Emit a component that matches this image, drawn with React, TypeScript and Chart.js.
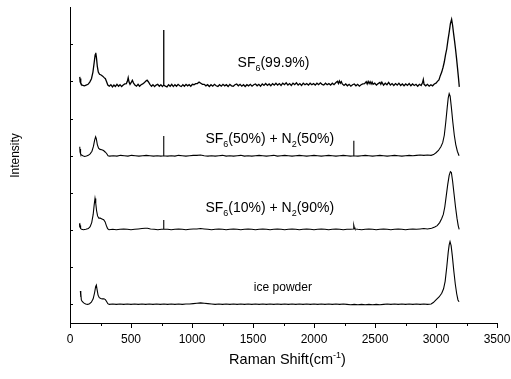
import React, { useEffect, useRef } from 'react';
import { Chart, registerables } from 'chart.js';

Chart.register(...registerables);

// ---------- data ----------
const xMin = 0;
const xMax = 3500;
const xStep = 250;
const xLabelStep = 500;
const yMin = -0.5;
const yMax = 8;
const yTickValues = [0, 1, 2, 3, 4, 5, 6, 7];

const seriesNames = ['SF6(99.9%)', 'SF6(50%) + N2(50%)', 'SF6(10%) + N2(90%)', 'ice powder'];
const seriesOffsets = [5.95, 4.0, 2.02, 0.0];

const sf6PureSpectrum: [number, number][] = [
  [80, 0.17], [83, 0.04], [86, 0.13], [90, 0.0], [96, -0.04], [105, -0.06], [118, -0.07], [132, -0.05], [148, -0.03],
  [162, 0.03], [176, 0.12], [188, 0.3], [198, 0.55], [206, 0.76], [211, 0.82], [217, 0.68], [224, 0.45], [232, 0.3],
  [242, 0.24], [255, 0.22], [268, 0.19], [280, 0.15], [290, 0.12], [300, 0.04], [310, -0.05], [322, -0.08],
  [335, -0.04], [348, -0.1], [360, -0.05], [372, -0.09], [385, -0.03], [398, -0.08], [410, -0.04], [423, -0.09],
  [436, -0.05], [449, -0.02], [462, -0.01], [470, 0.05], [477, 0.15], [484, 0.03], [492, -0.03], [502, 0.02],
  [511, 0.08], [520, 0.01], [532, -0.05], [545, -0.08], [558, -0.03], [570, -0.08], [583, -0.04], [596, -0.02],
  [608, 0.01], [620, 0.05], [632, 0.08], [642, 0.04], [655, -0.03], [668, -0.08], [680, -0.04], [693, -0.09],
  [706, -0.05], [719, -0.03], [732, -0.08], [745, -0.04], [757, -0.09], [767, -0.05], [768, 1.43], [769, -0.05],
  [782, -0.08], [795, -0.1], [808, -0.04], [821, -0.08], [834, -0.03], [847, -0.09], [860, -0.04], [873, -0.08],
  [886, -0.03], [899, -0.07], [912, -0.09], [925, -0.04], [938, -0.08], [951, -0.03], [964, -0.07], [977, -0.04],
  [990, -0.08], [1003, -0.03], [1016, -0.04], [1030, -0.01], [1044, -0.01], [1058, 0.03], [1072, 0.0], [1086, -0.03],
  [1100, -0.03], [1114, -0.07], [1128, -0.04], [1142, -0.09], [1156, -0.04], [1170, -0.08], [1184, -0.03], [1198, -0.07],
  [1212, -0.09], [1226, -0.04], [1240, -0.08], [1254, -0.03], [1268, -0.07], [1282, -0.04], [1296, -0.09], [1310, -0.03],
  [1324, -0.07], [1338, -0.08], [1352, -0.04], [1366, -0.02], [1380, -0.07], [1394, -0.03], [1408, -0.08], [1422, -0.04],
  [1436, -0.09], [1450, -0.04], [1464, -0.07], [1478, -0.03], [1492, -0.08], [1506, -0.04], [1520, -0.02], [1534, -0.07],
  [1548, -0.03], [1562, -0.08], [1576, -0.02], [1590, -0.06], [1604, -0.01], [1618, -0.06], [1632, -0.02], [1646, -0.07],
  [1660, -0.01], [1674, -0.05], [1688, 0.0], [1702, -0.05], [1716, -0.01], [1730, -0.06], [1744, 0.0], [1758, -0.04],
  [1772, 0.01], [1786, -0.05], [1800, -0.01], [1814, -0.06], [1828, 0.0], [1842, -0.04], [1856, 0.01], [1870, -0.05],
  [1884, -0.01], [1898, -0.06], [1912, 0.0], [1926, -0.04], [1940, -0.01], [1954, -0.05], [1968, 0.0], [1982, -0.04],
  [1996, -0.01], [2010, -0.05], [2024, 0.0], [2038, -0.04], [2052, 0.01], [2066, -0.03], [2080, -0.05], [2094, 0.0],
  [2108, -0.04], [2122, -0.01], [2136, -0.05], [2150, 0.0], [2164, -0.04], [2178, 0.01], [2192, 0.05], [2200, -0.01],
  [2208, 0.06], [2216, 0.0], [2224, 0.04], [2232, -0.02], [2246, -0.06], [2260, -0.02], [2274, -0.07], [2288, -0.03],
  [2302, -0.08], [2316, -0.04], [2330, -0.02], [2344, -0.07], [2358, -0.03], [2372, -0.08], [2386, -0.04], [2400, -0.02],
  [2414, -0.01], [2428, 0.04], [2436, -0.02], [2444, 0.05], [2452, -0.01], [2460, 0.04], [2468, -0.02], [2476, 0.03],
  [2484, -0.03], [2498, 0.0], [2512, -0.05], [2526, -0.01], [2540, 0.02], [2548, -0.03], [2556, 0.03], [2570, -0.05],
  [2584, 0.0], [2598, -0.04], [2612, 0.02], [2626, -0.05], [2640, -0.01], [2654, -0.06], [2668, -0.01], [2682, -0.05],
  [2696, 0.0], [2710, -0.06], [2724, -0.02], [2738, -0.07], [2752, -0.02], [2766, -0.06], [2780, -0.01], [2794, -0.07],
  [2808, -0.02], [2822, -0.06], [2836, -0.03], [2850, -0.08], [2864, -0.03], [2878, -0.06], [2890, 0.02], [2896, 0.1],
  [2902, -0.03], [2916, -0.07], [2930, -0.03], [2944, -0.08], [2958, -0.04], [2972, -0.07], [2986, -0.02], [3000, 0.0],
  [3012, 0.05], [3024, 0.09], [3036, 0.21], [3047, 0.3], [3058, 0.43], [3068, 0.57], [3078, 0.76], [3088, 0.92],
  [3098, 1.16], [3108, 1.37], [3118, 1.6], [3128, 1.72], [3136, 1.56], [3144, 1.34], [3152, 1.14], [3160, 0.92],
  [3168, 0.68], [3176, 0.42], [3184, 0.15], [3191, -0.1],
];

const sf6HalfSpectrum: [number, number][] = [
  [80, 0.24], [82, 0.1], [85, 0.18], [88, 0.05], [94, 0.02], [105, 0.0], [120, -0.02], [135, -0.01], [150, 0.01],
  [165, 0.05], [180, 0.12], [192, 0.25], [202, 0.42], [210, 0.51], [216, 0.45], [224, 0.3], [234, 0.2], [246, 0.17],
  [260, 0.16], [275, 0.14], [288, 0.1], [300, 0.06], [312, 0.0], [325, -0.01], [355, 0.0], [385, -0.01], [415, 0.01],
  [445, 0.0], [475, -0.01], [505, 0.01], [535, 0.0], [565, -0.01], [595, 0.0], [625, 0.01], [655, 0.0], [685, -0.01],
  [715, 0.0], [745, -0.01], [767, 0.0], [768, 0.53], [769, 0.0], [800, -0.01], [830, 0.0], [860, -0.01],
  [890, 0.01], [920, 0.0], [950, -0.01], [980, 0.0], [1010, 0.01], [1040, 0.01], [1070, 0.02], [1100, 0.0],
  [1130, -0.01], [1160, 0.0], [1190, -0.01], [1220, 0.0], [1250, 0.01], [1280, -0.01], [1310, 0.0], [1340, -0.01],
  [1370, 0.0], [1400, 0.01], [1430, -0.01], [1460, 0.0], [1490, -0.01], [1520, 0.0], [1550, 0.01], [1580, 0.0],
  [1610, -0.01], [1640, 0.0], [1670, 0.01], [1700, -0.01], [1730, 0.0], [1760, 0.01], [1790, 0.0], [1820, -0.01],
  [1850, 0.0], [1880, 0.01], [1910, 0.0], [1940, -0.01], [1970, 0.0], [2000, 0.01], [2030, 0.0], [2060, -0.01],
  [2090, 0.0], [2120, 0.01], [2150, 0.0], [2180, -0.01], [2210, 0.0], [2240, 0.01], [2270, 0.0], [2300, -0.01],
  [2325, 0.0], [2326, 0.4], [2327, 0.0], [2360, -0.01], [2390, 0.0], [2420, 0.01], [2450, 0.0],
  [2480, -0.01], [2510, 0.0], [2540, 0.01], [2570, 0.0], [2600, -0.01], [2630, 0.0], [2660, 0.01], [2690, 0.0],
  [2720, -0.01], [2750, 0.0], [2780, 0.01], [2810, 0.0], [2840, 0.01], [2870, 0.02], [2900, 0.01], [2930, 0.02],
  [2960, 0.01], [2980, 0.03], [3000, 0.08], [3020, 0.14], [3040, 0.24], [3055, 0.35], [3068, 0.55], [3080, 0.9],
  [3092, 1.3], [3100, 1.55], [3108, 1.67], [3116, 1.6], [3126, 1.3], [3138, 0.9], [3150, 0.55], [3162, 0.3],
  [3175, 0.12], [3189, 0.0],
];

const sf6TenthSpectrum: [number, number][] = [
  [78, 0.16], [80, 0.05], [83, 0.1], [87, 0.02], [95, 0.0], [110, -0.01], [130, 0.0], [150, 0.02], [165, 0.07],
  [178, 0.18], [190, 0.4], [198, 0.65], [205, 0.83], [211, 0.7], [218, 0.5], [226, 0.36], [236, 0.3], [248, 0.3],
  [262, 0.28], [276, 0.26], [288, 0.2], [298, 0.1], [308, 0.02], [320, -0.01], [350, 0.0], [380, -0.01], [410, 0.0],
  [440, 0.01], [470, 0.0], [500, -0.01], [530, 0.0], [560, 0.01], [590, 0.02], [615, 0.03], [635, 0.03], [660, 0.01],
  [690, 0.0], [720, -0.01], [750, 0.0], [767, 0.0], [768, 0.25], [769, 0.01], [800, 0.0], [830, -0.01],
  [860, 0.0], [890, 0.01], [920, 0.0], [950, -0.01], [980, 0.0], [1010, 0.01], [1040, 0.01], [1070, 0.02],
  [1100, 0.01], [1130, 0.0], [1160, -0.01], [1190, 0.0], [1220, 0.01], [1250, 0.0], [1280, -0.01], [1310, 0.0],
  [1340, 0.01], [1370, 0.0], [1400, -0.01], [1430, 0.0], [1460, 0.01], [1490, 0.0], [1520, -0.01], [1550, 0.0],
  [1580, 0.01], [1610, 0.0], [1640, -0.01], [1670, 0.0], [1700, 0.01], [1730, 0.0], [1760, -0.01], [1790, 0.0],
  [1820, 0.01], [1850, 0.0], [1880, -0.01], [1910, 0.0], [1940, 0.01], [1970, 0.0], [2000, -0.01], [2030, 0.0],
  [2060, 0.01], [2090, 0.0], [2120, -0.01], [2150, 0.0], [2180, 0.01], [2210, 0.0], [2240, -0.01], [2270, 0.0],
  [2300, 0.0], [2322, 0.01], [2326, 0.11], [2330, 0.05], [2336, 0.01], [2360, 0.0], [2390, -0.01], [2420, 0.0],
  [2450, 0.01], [2480, 0.0], [2510, -0.01], [2540, 0.0], [2570, 0.01], [2600, 0.0], [2630, -0.01], [2660, 0.0],
  [2690, 0.01], [2720, 0.0], [2750, -0.01], [2780, 0.0], [2810, 0.01], [2840, 0.0], [2870, 0.01], [2900, 0.02],
  [2930, 0.01], [2964, 0.03], [2990, 0.06], [3010, 0.1], [3030, 0.18], [3047, 0.29], [3060, 0.4], [3072, 0.6],
  [3084, 0.9], [3096, 1.2], [3108, 1.45], [3118, 1.55], [3126, 1.53], [3136, 1.3], [3148, 0.95], [3160, 0.6],
  [3172, 0.3], [3182, 0.1], [3190, 0.0],
];

const icePowderSpectrum: [number, number][] = [
  [85, 0.36], [87, 0.2], [90, 0.3], [93, 0.12], [100, 0.08], [112, 0.04], [128, 0.01], [145, 0.0], [160, 0.02],
  [175, 0.06], [190, 0.15], [202, 0.32], [210, 0.48], [216, 0.52], [222, 0.4], [230, 0.25], [240, 0.18], [252, 0.16],
  [265, 0.15], [278, 0.15], [290, 0.13], [300, 0.08], [310, 0.02], [322, 0.0], [350, 0.01], [380, 0.0], [410, 0.01],
  [440, 0.0], [470, 0.01], [500, 0.0], [530, 0.01], [560, 0.0], [590, 0.01], [620, 0.0], [650, 0.01], [680, 0.0],
  [710, 0.01], [740, 0.0], [770, 0.01], [800, 0.0], [830, 0.01], [860, 0.0], [890, 0.01], [920, 0.0], [950, 0.01],
  [980, 0.01], [1010, 0.02], [1040, 0.03], [1070, 0.04], [1100, 0.03], [1130, 0.02], [1160, 0.01], [1190, 0.0],
  [1220, 0.01], [1250, 0.0], [1280, 0.01], [1310, 0.0], [1340, 0.01], [1370, 0.0], [1400, 0.01], [1430, 0.0],
  [1460, 0.01], [1490, 0.0], [1520, 0.01], [1550, 0.0], [1580, 0.01], [1610, 0.0], [1640, 0.01], [1670, 0.0],
  [1700, 0.01], [1730, 0.0], [1760, 0.01], [1790, 0.0], [1820, 0.01], [1850, 0.0], [1880, 0.01], [1910, 0.0],
  [1940, 0.01], [1970, 0.0], [2000, 0.01], [2030, 0.0], [2060, 0.01], [2090, 0.0], [2120, 0.01], [2150, 0.0],
  [2180, 0.01], [2210, 0.0], [2240, 0.01], [2270, 0.0], [2300, -0.01], [2330, 0.0], [2360, -0.01], [2390, 0.0],
  [2420, -0.01], [2450, 0.0], [2480, -0.01], [2510, 0.0], [2540, -0.01], [2570, 0.0], [2600, 0.01], [2630, 0.0],
  [2660, 0.01], [2690, 0.0], [2720, 0.01], [2750, 0.0], [2780, 0.01], [2810, 0.0], [2840, 0.01], [2870, 0.0],
  [2900, 0.01], [2930, 0.0], [2960, 0.01], [2978, 0.05], [3000, 0.12], [3025, 0.2], [3047, 0.3], [3062, 0.42],
  [3075, 0.62], [3088, 1.0], [3100, 1.4], [3108, 1.6], [3115, 1.69], [3124, 1.58], [3134, 1.3], [3146, 0.9],
  [3158, 0.55], [3170, 0.28], [3180, 0.12], [3189, 0.07],
];

const spectra = [sf6PureSpectrum, sf6HalfSpectrum, sf6TenthSpectrum, icePowderSpectrum];
const seriesLineWidths = [1.3, 1.1, 1.1, 1.1];

// annotation text pieces: [text, kind] where kind '' | 'sub' | 'sup'
const annotationParts: [string, string][][] = [
  [['SF', ''], ['6', 'sub'], ['(99.9%)', '']],
  [['SF', ''], ['6', 'sub'], ['(50%) + N', ''], ['2', 'sub'], ['(50%)', '']],
  [['SF', ''], ['6', 'sub'], ['(10%) + N', ''], ['2', 'sub'], ['(90%)', '']],
  [['ice powder', '']],
];
const annotationX = [1668, 1637, 1637, 1745];
const annotationY = [6.38, 4.34, 2.48, 0.35];
const annotationSizes = [14, 14, 14, 12];

const xTitleParts: [string, string][] = [['Raman Shift(cm', ''], ['-1', 'sup'], [')', '']];
const yTitle = 'Intensity';

const FONT = '"Liberation Sans", Arial, Helvetica, sans-serif';

function drawRich(ctx: CanvasRenderingContext2D, parts: [string, string][], cx: number, baseline: number, size: number) {
  const sizes = parts.map(([, k]) => (k ? Math.round(size * 0.62) : size));
  let total = 0;
  const widths = parts.map(([t], i) => {
    ctx.font = `${sizes[i]}px ${FONT}`;
    const w = ctx.measureText(t).width;
    total += w;
    return w;
  });
  let x = cx - total / 2;
  ctx.textAlign = 'left';
  ctx.textBaseline = 'alphabetic';
  parts.forEach(([t, k], i) => {
    ctx.font = `${sizes[i]}px ${FONT}`;
    const dy = k === 'sub' ? size * 0.3 : k === 'sup' ? -size * 0.42 : 0;
    ctx.fillText(t, x, baseline + dy);
    x += widths[i];
  });
}

const decorPlugin = {
  id: 'decor',
  afterDraw(chart: any) {
    const { ctx, chartArea, scales } = chart;
    const xs = scales.x;
    const ys = scales.y;
    ctx.save();
    ctx.strokeStyle = '#000';
    ctx.fillStyle = '#000';
    ctx.lineWidth = 1;
    xs.ticks.forEach((t: any) => {
      if (t.value % xStep !== 0) return;
      const px = Math.round(xs.getPixelForValue(t.value)) + 0.5;
      const len = t.value % xLabelStep === 0 ? 5 : 3;
      ctx.beginPath();
      ctx.moveTo(px, chartArea.bottom);
      ctx.lineTo(px, chartArea.bottom + len);
      ctx.stroke();
    });
    yTickValues.forEach((v) => {
      const py = Math.round(ys.getPixelForValue(v)) + 0.5;
      ctx.beginPath();
      ctx.moveTo(chartArea.left, py);
      ctx.lineTo(chartArea.left + 3, py);
      ctx.stroke();
    });
    annotationParts.forEach((parts, i) => {
      const cx = xs.getPixelForValue(annotationX[i]);
      const by = ys.getPixelForValue(annotationY[i]);
      drawRich(ctx, parts, cx, by, annotationSizes[i]);
    });
    drawRich(ctx, xTitleParts, (chartArea.left + chartArea.right) / 2 + 4, 364, 14.5);
    ctx.save();
    ctx.translate(19, (chartArea.top + chartArea.bottom) / 2 - 9.5);
    ctx.rotate(-Math.PI / 2);
    ctx.font = `12px ${FONT}`;
    ctx.textAlign = 'center';
    ctx.textBaseline = 'alphabetic';
    ctx.fillText(yTitle, 0, 0);
    ctx.restore();
    ctx.restore();
  },
};

export default function App() {
  const canvasRef = useRef<HTMLCanvasElement | null>(null);

  useEffect(() => {
    const canvas = canvasRef.current;
    if (!canvas) return;
    const datasets = spectra.map((spec, i) => ({
      label: seriesNames[i],
      data: spec.map(([x, y]) => ({ x, y: y + seriesOffsets[i] })),
      borderColor: '#000',
      borderWidth: seriesLineWidths[i],
      pointRadius: 0,
      tension: 0,
      fill: false,
    }));
    const chart = new Chart(canvas, {
      type: 'line',
      data: { datasets },
      plugins: [decorPlugin],
      options: {
        responsive: false,
        animation: false,
        layout: { padding: { top: 7, right: 14, left: 0, bottom: 0 } },
        plugins: { legend: { display: false }, tooltip: { enabled: false } },
        scales: {
          x: {
            type: 'linear',
            min: xMin,
            max: xMax,
            afterFit: (s: any) => { s.height = 56; s.paddingLeft = 0; s.paddingRight = 0; },
            ticks: {
              stepSize: xStep,
              autoSkip: false,
              maxRotation: 0,
              padding: 9,
              color: '#000',
              font: { size: 12, family: FONT },
              callback: (v: any) => (Number(v) % xLabelStep === 0 ? String(v) : ''),
            },
            grid: { display: true, drawOnChartArea: false, drawTicks: false },
            border: { display: true, color: '#000', width: 1 },
          },
          y: {
            type: 'linear',
            min: yMin,
            max: yMax,
            afterFit: (s: any) => { s.width = 70; s.paddingTop = 0; s.paddingBottom = 0; },
            ticks: { display: false, stepSize: 1 },
            grid: { display: true, drawOnChartArea: false, drawTicks: false },
            border: { display: true, color: '#000', width: 1 },
          },
        },
      },
    });
    return () => chart.destroy();
  }, []);

  return (
    <div style={{ position: 'absolute', left: 0, top: 0, width: 511, height: 379, background: '#fff' }}>
      <canvas ref={canvasRef} width={511} height={379} style={{ display: 'block' }} />
    </div>
  );
}
